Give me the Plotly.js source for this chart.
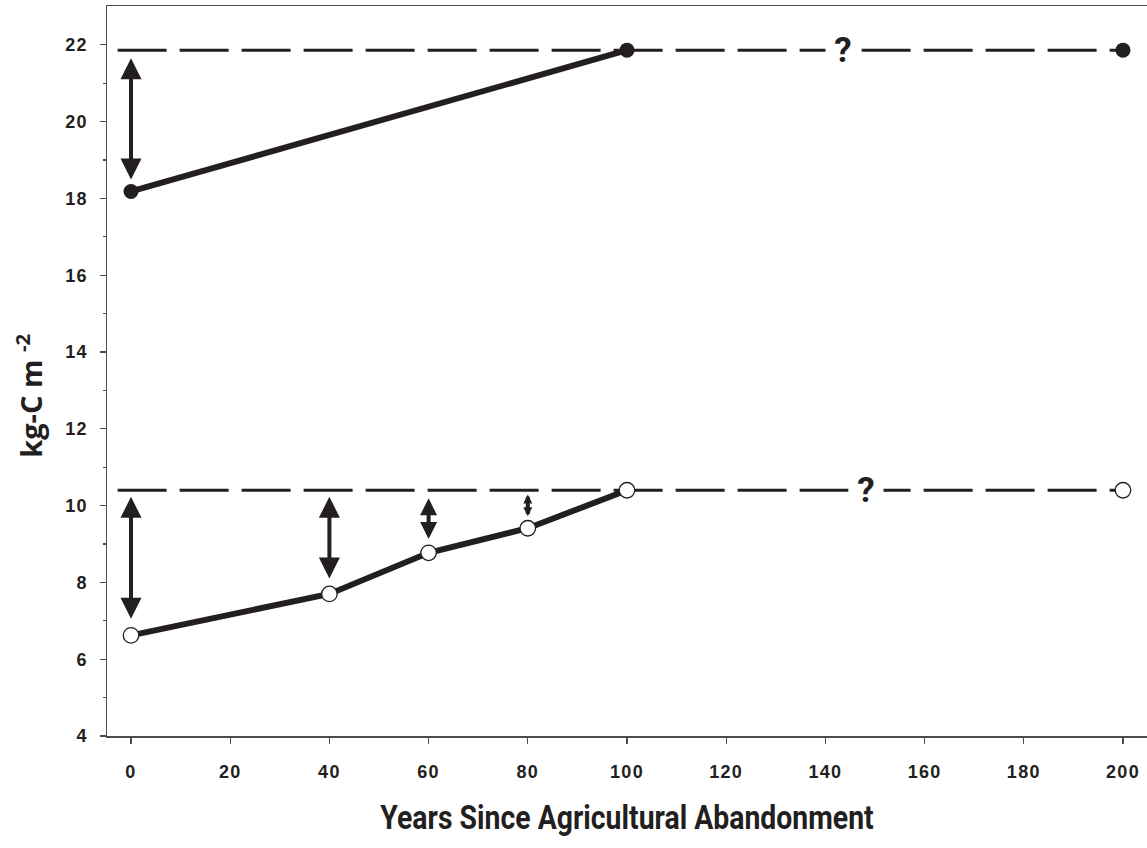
<!DOCTYPE html>
<html><head><meta charset="utf-8">
<script src="https://cdn.plot.ly/plotly-3.0.1.min.js"></script>
<style>
html,body{margin:0;padding:0;background:#fff}
#chart{width:1147px;height:848px}
.xtick text,.ytick text{letter-spacing:1.3px}
.g-xtitle text{transform-box:fill-box;transform-origin:center;transform:scaleX(0.835)}
</style>
</head><body><div id="chart"></div><script>
// ---- data ----
const upperYears = [0, 100, 200];
const upperCarbon = [18.18, 21.86, 21.86];
const upperTrendYears = [0, 100];
const upperTrendCarbon = [18.18, 21.86];
const upperSteadyState = 21.86;

const lowerYears = [0, 40, 60, 80, 100, 200];
const lowerCarbon = [6.62, 7.70, 8.77, 9.41, 10.40, 10.40];
const lowerTrendYears = [0, 40, 60, 80, 100];
const lowerTrendCarbon = [6.62, 7.70, 8.77, 9.41, 10.40];
const lowerSteadyState = 10.40;

const steadyStateYears = [-2.7, 200];

const gapArrowYears = [0, 0, 40, 60, 80];
const gapArrowTop = [21.65, 10.23, 10.23, 10.19, 10.29];
const gapArrowBottom = [18.48, 7.04, 8.09, 9.12, 9.71];

const questionYears = [143.6, 148.1];
const questionCarbon = [21.86, 10.40];
const questionText = ['?', '?'];

const xTickVals = [0, 20, 40, 60, 80, 100, 120, 140, 160, 180, 200];
const xTickText = ['0', '20', '40', '60', '80', '100', '120', '140', '160', '180', '200'];
const yTickVals = [4, 6, 8, 10, 12, 14, 16, 18, 20, 22];
const yTickText = ['4', '6', '8', '10', '12', '14', '16', '18', '20', '22'];
const yMinorTickVals = [5, 7, 9, 11, 13, 15, 17, 19, 21];

const xTitle = 'Years Since Agricultural Abandonment';
const yTitle = 'kg-C&nbsp;m <sup>-2</sup>';

// ---- styles ----
const INK = '#231f20';
const AXIS = '#4d4d4d';
const arrowHeadScale = [1.05, 1.05, 1.05, 0.85, 0.45];
const tickFont = {family: 'Liberation Sans, Arial, sans-serif', size: 18, color: INK, weight: 'bold'};
const titleFont = 'Roboto, Liberation Sans, sans-serif';

const dashStyle = {color: INK, width: 3, dash: '49px,13px'};

const traces = [
  {x: steadyStateYears, y: [upperSteadyState, upperSteadyState], mode: 'lines', line: dashStyle, hoverinfo: 'skip'},
  {x: steadyStateYears, y: [lowerSteadyState, lowerSteadyState], mode: 'lines', line: dashStyle, hoverinfo: 'skip'},
  {x: upperTrendYears, y: upperTrendCarbon, mode: 'lines', line: {color: INK, width: 6}},
  {x: lowerTrendYears, y: lowerTrendCarbon, mode: 'lines', line: {color: INK, width: 6}},
  {x: upperYears, y: upperCarbon, mode: 'markers', marker: {size: 15, color: INK, line: {width: 0}}},
  {x: lowerYears, y: lowerCarbon, mode: 'markers', marker: {size: 15.5, color: '#ffffff', line: {width: 1.3, color: INK}}}
];

const annotations = [];
gapArrowYears.forEach((yr, i) => {
  annotations.push({
    x: yr, y: gapArrowTop[i], ax: yr, ay: gapArrowBottom[i],
    xref: 'x', yref: 'y', axref: 'x', ayref: 'y',
    text: '', font: {size: 1}, borderpad: 0,
    showarrow: true, arrowside: 'end+start',
    arrowhead: 2, startarrowhead: 2,
    arrowwidth: 4, arrowsize: arrowHeadScale[i], startarrowsize: arrowHeadScale[i],
    arrowcolor: INK, standoff: 0, startstandoff: 0
  });
});
questionYears.forEach((yr, i) => {
  annotations.push({
    x: yr, y: questionCarbon[i], xref: 'x', yref: 'y',
    text: questionText[i], showarrow: false,
    bgcolor: '#ffffff', width: 34, borderpad: 0,
    font: {family: titleFont, size: 35, color: INK, weight: 'bold'},
    xanchor: 'center', yanchor: 'middle'
  });
});
annotations.push({
  x: -0.075, y: 0.466, xref: 'paper', yref: 'paper',
  text: yTitle, showarrow: false, textangle: -90,
  xanchor: 'center', yanchor: 'middle',
  font: {family: 'Open Sans, sans-serif', size: 29, color: INK, weight: 'bold'}
});

const layout = {
  width: 1147, height: 848,
  margin: {l: 107, r: 0, t: 6, b: 112},
  paper_bgcolor: '#ffffff', plot_bgcolor: '#ffffff',
  showlegend: false,
  xaxis: {
    range: [-4.84, 204.84],
    tickmode: 'array', tickvals: xTickVals, ticktext: xTickText,
    ticks: 'outside', ticklen: 6, tickwidth: 1.3, tickcolor: AXIS,
    showline: true, linecolor: AXIS, linewidth: 1.5, mirror: true,
    showgrid: false, zeroline: false,
    tickfont: tickFont, ticklabelstandoff: 13,
    title: {text: xTitle, standoff: 24, font: {family: titleFont, size: 34, color: INK, weight: 'bold'}}
  },
  yaxis: {
    range: [4, 23.01],
    tickmode: 'array', tickvals: yTickVals, ticktext: yTickText,
    ticks: 'outside', ticklen: 6, tickwidth: 1.3, tickcolor: AXIS,
    minor: {tickmode: 'array', tickvals: yMinorTickVals, ticks: 'outside', ticklen: 3, tickwidth: 1.3, tickcolor: AXIS, showgrid: false},
    showline: true, linecolor: AXIS, linewidth: 1.5, mirror: false,
    showgrid: false, zeroline: false,
    tickfont: tickFont, ticklabelstandoff: 8
  },
  annotations: annotations
};

Plotly.newPlot('chart', traces, layout, {staticPlot: true, displayModeBar: false});
</script></body></html>
